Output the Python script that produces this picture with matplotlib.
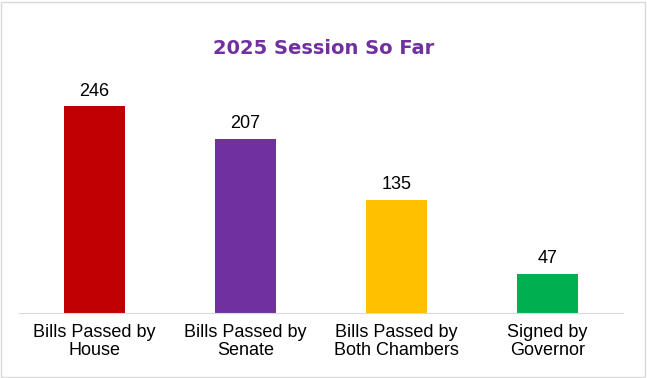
import matplotlib
matplotlib.use("Agg")
import matplotlib.pyplot as plt
from matplotlib.patches import Rectangle

categories = ["Bills Passed by\nHouse", "Bills Passed by\nSenate",
              "Bills Passed by\nBoth Chambers", "Signed by\nGovernor"]
values = [246, 207, 135, 47]
colors = ["#C00000", "#7030A0", "#FFC000", "#00B050"]

plt.rcParams['font.family'] = ['Liberation Sans', 'DejaVu Sans']

fig = plt.figure(figsize=(6.47, 3.78), dpi=100)
ax = fig.add_axes([0.0294, 0.172, 0.9335, 0.6667])

x = range(len(categories))
bars = ax.bar(x, values, width=0.4, color=colors)

for b, v in zip(bars, values):
    ax.text(b.get_x() + b.get_width() / 2, v + 8, str(v),
            ha='center', va='bottom', fontsize=13, color='#000000')

ax.set_xlim(-0.5, len(categories) - 0.5)
ax.set_ylim(0, 300)
ax.set_yticks([])
ax.set_xticks(list(x))
ax.set_xticklabels(categories, fontsize=13, color='#000000', linespacing=1.1)
ax.tick_params(axis='x', length=0, pad=8)
for side in ['top', 'right', 'left']:
    ax.spines[side].set_visible(False)
ax.spines['bottom'].set_color('#D9D9D9')

fig.text(0.5, 0.873, "2025 Session So Far", ha='center', va='center',
         fontsize=14, fontweight='heavy', color='#7030A0',
         family=['DejaVu Sans'])

fig.patches.append(Rectangle((0.002, 0.003), 0.995, 0.993, transform=fig.transFigure,
                             fill=False, edgecolor='#D9D9D9', linewidth=1))

fig.savefig("out.png", dpi=100)
